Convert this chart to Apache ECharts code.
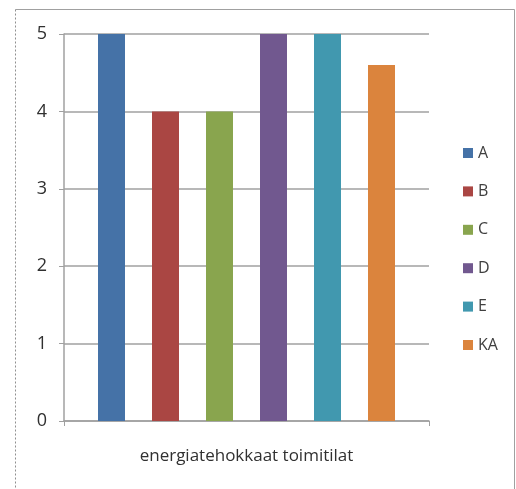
<!DOCTYPE html>
<html>
<head>
<meta charset="utf-8">
<script src="https://cdn.jsdelivr.net/npm/echarts@6/dist/echarts.min.js"></script>
<style>
html,body{margin:0;padding:0;background:#fff;}
#chart{width:516px;height:489px;}
</style>
</head>
<body>
<div id="chart"></div>
<script>
// Category and series data
const categories = ['energiatehokkaat toimitilat'];
const seriesNames = ['A', 'B', 'C', 'D', 'E', 'KA'];
const seriesValues = [[5], [4], [4], [5], [5], [4.6]];
const seriesColors = ['#4572A7', '#AA4643', '#89A54E', '#71588F', '#4198AF', '#DB843D'];
const yTicks = [0, 1, 2, 3, 4, 5];

const FONT = "'Open Sans', 'Noto Sans', sans-serif";
const chart = echarts.init(document.getElementById('chart'), null, { renderer: 'canvas' });

const series = seriesNames.map((name, i) => ({
  name: name,
  type: 'bar',
  data: seriesValues[i],
  barWidth: 27,
  barGap: '100%',
  itemStyle: { color: seriesColors[i] },
  emphasis: { disabled: true }
}));

chart.setOption({
  animation: false,
  backgroundColor: '#fff',
  grid: { left: 64, right: 87, top: 34, bottom: 68 },
  graphic: [
    // chart frame: solid top/right, dotted left
    {
      type: 'polyline',
      shape: { points: [[15.5, 9.5], [514.5, 9.5], [514.5, 489]] },
      style: { fill: 'none', stroke: '#a0a0a0', lineWidth: 1 },
      silent: true,
      z: -1
    },
    {
      type: 'line',
      shape: { x1: 15.5, y1: 9.5, x2: 15.5, y2: 489 },
      style: { stroke: '#909090', lineWidth: 1, lineDash: [2, 2] },
      silent: true,
      z: -1
    }
  ],
  legend: {
    orient: 'vertical',
    left: 458,
    top: 140,
    itemWidth: 10,
    itemHeight: 10,
    itemGap: 22.4,
    itemTextGap: 4,
    icon: 'rect',
    data: seriesNames,
    textStyle: { fontFamily: FONT, fontSize: 16, color: '#404040', lineHeight: 16 },
    selectedMode: false
  },
  xAxis: {
    type: 'category',
    data: categories,
    axisLine: { show: true, lineStyle: { color: '#a0a0a0', width: 1.5 } },
    axisTick: { show: true, length: 5, lineStyle: { color: '#a0a0a0' } },
    axisLabel: { margin: 27, fontFamily: FONT, fontSize: 17, color: '#303030' }
  },
  yAxis: {
    type: 'value',
    min: yTicks[0],
    max: yTicks[yTicks.length - 1],
    interval: 1,
    axisLine: { show: true, lineStyle: { color: '#a0a0a0', width: 1.5 } },
    axisTick: { show: true, length: 5, lineStyle: { color: '#a0a0a0' } },
    axisLabel: { margin: 17, fontFamily: FONT, fontSize: 18, color: '#303030' },
    splitLine: { show: true, lineStyle: { color: '#a0a0a0', width: 1.5 } }
  },
  series: series
});
</script>
</body>
</html>
